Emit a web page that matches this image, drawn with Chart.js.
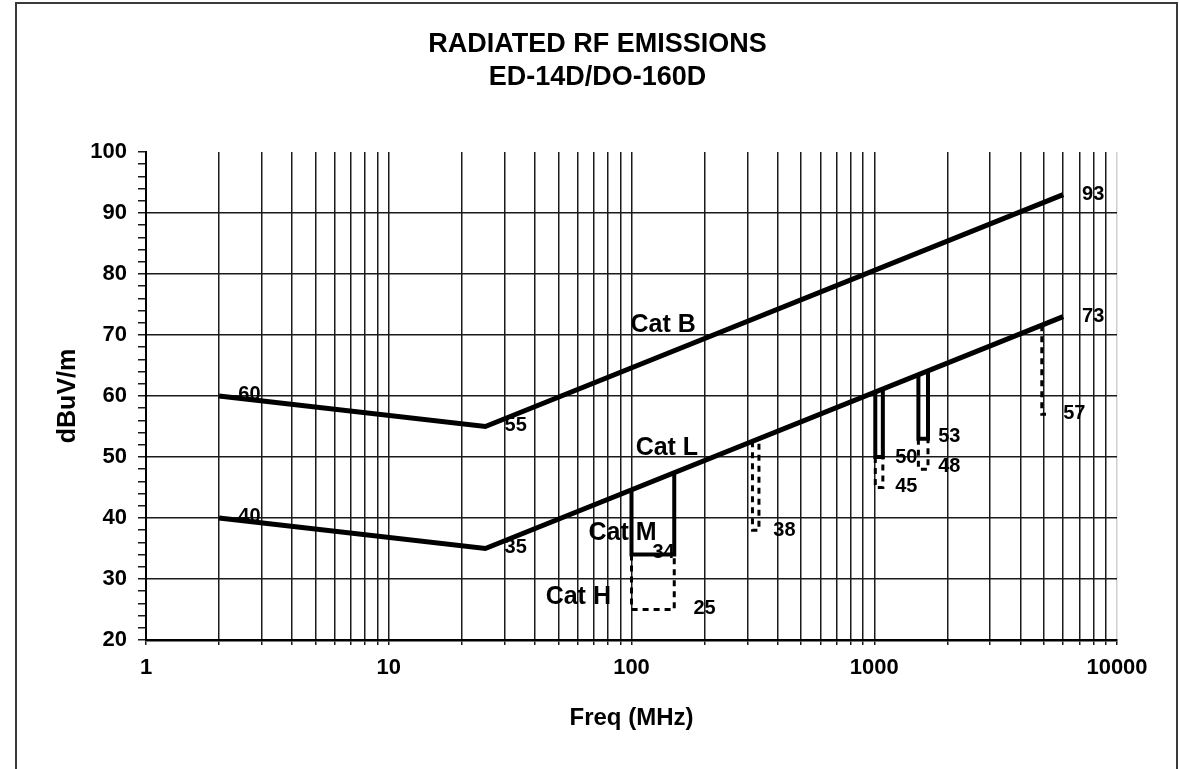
<!DOCTYPE html>
<html>
<head>
<meta charset="utf-8">
<script src="https://cdn.jsdelivr.net/npm/chart.js@4.4.1/dist/chart.umd.min.js"></script>
<style>
  html, body { margin: 0; padding: 0; background: #fff; overflow: hidden; }
  #wrap { position: relative; width: 1179px; height: 769px; }
  #frame { position: absolute; left: 15px; top: 2px; width: 1159px; height: 820px; border: 2px solid #3a3a3a; box-sizing: content-box; }
  canvas { position: absolute; left: 0; top: 0; }
</style>
</head>
<body>
<div id="wrap">
  <div id="frame"></div>
  <canvas id="c" width="1179" height="769"></canvas>
</div>
<script>
// ---- data (frequency in MHz, level in dBuV/m) ----
const catBFreq = [2, 25, 6000];
const catBLevel = [60, 55, 93];
const catLFreq = [2, 25, 6000];
const catLLevel = [40, 35, 73];
const catMFreq = [100, 100, 150, 150];
const catMLevel = [44.6, 34, 34, 47.4];
const catHFreq = [100, 100, 150, 150];
const catHLevel = [34, 25, 25, 34];
const gsFreq = [315, 315, 335, 335];
const gsLevel = [52.6, 38, 38, 53.0];
const dmeFreq = [1010, 1010, 1085, 1085];
const dmeLevel = [60.6, 50, 50, 61.1];
const dmeLowFreq = [1010, 1010, 1085, 1085];
const dmeLowLevel = [50, 45, 45, 50];
const gpsFreq = [1520, 1520, 1665, 1665];
const gpsLevel = [63.5, 53, 53, 64.1];
const gpsLowFreq = [1520, 1520, 1665, 1665];
const gpsLowLevel = [53, 48, 48, 53];
const mlsFreq = [4900, 4900, 5100];
const mlsLevel = [71.6, 57, 57];

const xGridValues = [1,2,3,4,5,6,7,8,9,10,20,30,40,50,60,70,80,90,100,200,300,400,500,600,700,800,900,1000,2000,3000,4000,5000,6000,7000,8000,9000,10000];
const xTickLabels = [1, 10, 100, 1000, 10000];
const yTickLabels = [20, 30, 40, 50, 60, 70, 80, 90, 100];

// annotation texts with their anchor (freq, level)
const annotTexts = ['60','40','55','35','93','73','Cat B','Cat L','Cat M','34','Cat H','25','38','50','45','53','48','57'];
const annotFreqs = [2.4, 2.4, 30, 30, 7180, 7180, 99, 104, 66.5, 122, 44.3, 180, 384, 1220, 1220, 1834, 1834, 6000];
const annotLevels = [60.2, 40.2, 55.1, 35.1, 93.1, 73.0, 71.6, 51.5, 37.5, 34.3, 27.0, 25.1, 38.0, 50.0, 45.1, 53.3, 48.4, 57.2];

const FONT = '"Liberation Sans", Arial, Helvetica, sans-serif';

function pts(xs, ys) { return xs.map((x, i) => ({ x: x, y: ys[i] })); }

function solid(data, w) {
  return { data: data, borderColor: '#000', borderWidth: w, pointRadius: 0, fill: false, tension: 0,
           borderCapStyle: 'butt', borderJoinStyle: 'miter' };
}
function dashed(data) {
  return { data: data, borderColor: '#000', borderWidth: 3, borderDash: [6, 5], pointRadius: 0, fill: false,
           tension: 0, borderCapStyle: 'butt', borderJoinStyle: 'miter' };
}

const labelPlugin = {
  id: 'labels',
  beforeDatasetsDraw(chart) {
    const ctx = chart.ctx;
    const xs = chart.scales.x, ys = chart.scales.y;
    ctx.save();
    ctx.fillStyle = '#000';
    ctx.textAlign = 'left';
    ctx.textBaseline = 'middle';
    annotTexts.forEach((t, i) => {
      const big = t.indexOf('Cat') === 0;
      ctx.font = 'bold ' + (big ? 25 : 20) + 'px ' + FONT;
      ctx.fillText(t, xs.getPixelForValue(annotFreqs[i]), ys.getPixelForValue(annotLevels[i]));
    });
    ctx.restore();
  }
};

new Chart(document.getElementById('c'), {
  type: 'line',
  data: {
    datasets: [
      dashed(pts(catHFreq, catHLevel)),
      dashed(pts(gsFreq, gsLevel)),
      dashed(pts(dmeLowFreq, dmeLowLevel)),
      dashed(pts(gpsLowFreq, gpsLowLevel)),
      dashed(pts(mlsFreq, mlsLevel)),
      solid(pts(catMFreq, catMLevel), 4),
      solid(pts(dmeFreq, dmeLevel), 4),
      solid(pts(gpsFreq, gpsLevel), 4),
      solid(pts(catBFreq, catBLevel), 5),
      solid(pts(catLFreq, catLLevel), 5)
    ]
  },
  options: {
    responsive: false,
    animation: false,
    events: [],
    layout: { padding: { left: 16, right: 0, top: 0, bottom: 0 } },
    plugins: {
      legend: { display: false },
      tooltip: { enabled: false },
      title: {
        display: true,
        text: ['RADIATED RF EMISSIONS', 'ED-14D/DO-160D'],
        color: '#000',
        font: { family: FONT, size: 27, weight: 'bold', lineHeight: 1.22 },
        padding: { top: 28.5, bottom: 57.6 }
      }
    },
    scales: {
      x: {
        type: 'logarithmic',
        min: 1, max: 10000,
        afterBuildTicks(scale) { scale.ticks = xGridValues.map(v => ({ value: v })); },
        afterFit(scale) { scale.height = 129; scale.paddingRight = 62; scale.paddingLeft = 0; },
        ticks: {
          autoSkip: false, maxRotation: 0, minRotation: 0, padding: 10,
          color: '#000',
          font: { family: FONT, size: 22, weight: 'bold' },
          callback: (v) => xTickLabels.includes(v) ? String(v) : ''
        },
        grid: {
          color: (c) => (c.tick && c.tick.value === 10000) ? '#cfcfcf' : '#1a1a1a',
          tickColor: '#1a1a1a',
          lineWidth: 1.5,
          tickLength: 5,
          drawTicks: true
        },
        border: { display: true, color: '#000', width: 2.5 },
        title: {
          display: true, text: 'Freq (MHz)', color: '#000',
          font: { family: FONT, size: 24, weight: 'bold', lineHeight: 1.2 },
          padding: { top: 0, bottom: 36 }
        }
      },
      y: {
        type: 'linear',
        min: 20, max: 100,
        afterBuildTicks(scale) {
          const t = [];
          for (let v = 20; v <= 100; v += 2) t.push({ value: v });
          scale.ticks = t;
        },
        afterFit(scale) { scale.width = 130; },
        ticks: {
          autoSkip: false, padding: 11, color: '#000',
          font: { family: FONT, size: 22, weight: 'bold' },
          callback: (v) => yTickLabels.includes(v) ? String(v) : ''
        },
        grid: {
          color: (c) => (c.tick && c.tick.value % 10 === 0 && c.tick.value < 100) ? '#1a1a1a' : 'rgba(0,0,0,0)',
          tickColor: '#1a1a1a',
          lineWidth: 1.5,
          tickLength: 8,
          drawTicks: true
        },
        border: { display: true, color: '#000', width: 2 },
        title: {
          display: true, text: 'dBuV/m', color: '#000',
          font: { family: FONT, size: 25, weight: 'bold', lineHeight: 1.2 },
          padding: { top: 37, bottom: 0 }
        }
      }
    }
  },
  plugins: [labelPlugin]
});
</script>
</body>
</html>
